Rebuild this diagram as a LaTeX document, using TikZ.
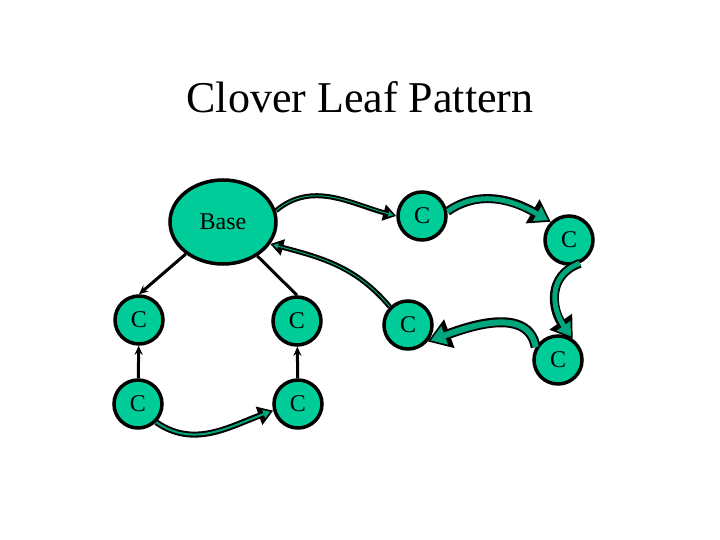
\documentclass[tikz,border=0pt]{standalone}
\usepackage{fontspec}
\setmainfont{Liberation Serif}
\usetikzlibrary{arrows.meta,shapes.geometric}
\definecolor{Leaf}{HTML}{00CC99}
\definecolor{LeafDark}{HTML}{00A67C}

\begin{document}
\begin{tikzpicture}[x=1pt,y=-1pt,>={Stealth[length=9pt,width=8pt]}]
    \tikzset{
      cell/.style={circle,draw=black,line width=3.5pt,fill=Leaf,minimum size=48pt,
                   inner sep=0pt,font=\fontsize{24}{24}\selectfont},
      hub/.style={cell,ellipse,minimum width=106pt,minimum height=84pt},
      link/.style={->,line width=3pt},
      ribbon/.style={draw=black,line width=#1,-{Triangle[length=3pt 2,width=3pt 2.6]},
                     postaction={draw=LeafDark,line width=#1-4pt,shorten >=3pt,
                     -{Triangle[length=3pt 2,width=3pt 2.6]}}}
    }
    \useasboundingbox (0,0) rectangle (720,540);
    \node[font=\fontsize{44}{44}\selectfont] (title) at (360,97) {Clover Leaf Pattern};
    \node[hub] (base) at (223,222) {Base};
    \node[cell] (c1) at (422,216) {C};
    \node[cell] (c2) at (569,240) {C};
    \node[cell] (c3) at (139,320) {C};
    \node[cell] (c4) at (297,321) {C};
    \node[cell] (c5) at (408,325) {C};
    \node[cell] (c6) at (558,360) {C};
    \node[cell] (c7) at (138,404) {C};
    \node[cell] (c8) at (298,404) {C};
    % straight links
    \draw[link] (base) -- (c3.north);
    \draw[line width=3pt] (base) -- (c4.north);
    \draw[link] (c7) -- (c3);
    \draw[link] (c8) -- (c4);
    % curved ribbons
    \draw[ribbon=5pt] (base.12) to[out=40,in=165] (c1.west);
    \draw[ribbon=5pt] (c5.135) to[out=130,in=-15] (base.-25);
    \draw[ribbon=9pt] (c1.10) to[out=35,in=150] (c2.135);
    \draw[ribbon=9pt] (c2.-65) to[out=-160,in=125,looseness=1.2] (c6.55);
    \draw[ribbon=10pt] (c6.150) to[out=100,in=20] (c5.-40);
    \draw[ribbon=6pt] (c7.-45) to[out=-35,in=-160] (c8.195);
  \end{tikzpicture}
\end{document}
